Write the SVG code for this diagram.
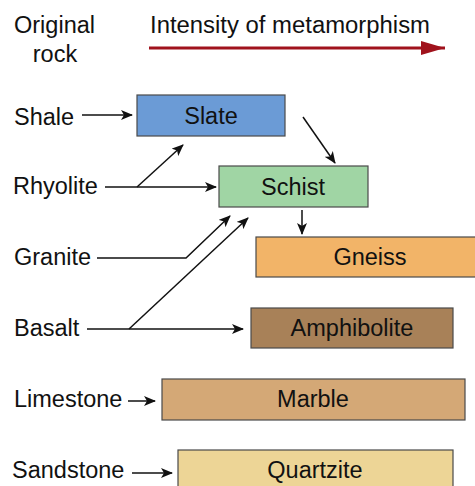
<svg xmlns="http://www.w3.org/2000/svg" width="475" height="486" viewBox="0 0 475 486">
<style>
text{font-family:"Liberation Sans",Arial,sans-serif;font-size:23.5px;fill:#111}
.c{text-anchor:middle}
.box{stroke:#4a4a4a;stroke-width:1.2}
.ln{stroke:#111;stroke-width:1.5;fill:none}
</style>
<defs>
<marker id="ah" markerWidth="12" markerHeight="10" refX="11" refY="5" orient="auto" markerUnits="userSpaceOnUse">
<path d="M0,0 L12,5 L0,10 L3,5 Z" fill="#111"/>
</marker>
<marker id="rh" markerWidth="24" markerHeight="14" refX="24" refY="7" orient="auto" markerUnits="userSpaceOnUse">
<path d="M0,0 L24,7 L0,14 Z" fill="#a0121c"/>
</marker>
</defs>
<rect width="475" height="486" fill="#fff"/>
<g id="header">
<text x="14" y="33" textLength="81" lengthAdjust="spacingAndGlyphs">Original</text>
<text x="55" y="62" class="c">rock</text>
<text x="150" y="33" textLength="280" lengthAdjust="spacingAndGlyphs">Intensity of metamorphism</text>
<line x1="149" y1="48" x2="445" y2="48" stroke="#a0121c" stroke-width="3" marker-end="url(#rh)"/>
</g>
<g id="connectors">
<line class="ln" x1="82" y1="115" x2="132" y2="115" marker-end="url(#ah)"/>
<line class="ln" x1="303" y1="117" x2="335" y2="163" marker-end="url(#ah)"/>
<line class="ln" x1="105" y1="187" x2="216" y2="187" marker-end="url(#ah)"/>
<line class="ln" x1="137" y1="187" x2="183" y2="145" marker-end="url(#ah)"/>
<line class="ln" x1="302" y1="210" x2="302" y2="234" marker-end="url(#ah)"/>
<polyline class="ln" points="97,258 186,258 230,216" marker-end="url(#ah)"/>
<line class="ln" x1="87" y1="329" x2="243" y2="329" marker-end="url(#ah)"/>
<line class="ln" x1="129" y1="329" x2="248" y2="218" marker-end="url(#ah)"/>
<line class="ln" x1="128" y1="401" x2="155" y2="401" marker-end="url(#ah)"/>
<line class="ln" x1="132" y1="473" x2="172" y2="473" marker-end="url(#ah)"/>
</g>
<g id="rocks">
<text x="14" y="125">Shale</text>
<text x="13" y="194">Rhyolite</text>
<text x="14" y="265">Granite</text>
<text x="14" y="336">Basalt</text>
<text x="14" y="407">Limestone</text>
<text x="12" y="478">Sandstone</text>
</g>
<g id="slate"><rect class="box" x="137" y="95" width="148" height="41" fill="#6b9bd6"/><text class="c" x="211" y="124">Slate</text></g>
<g id="schist"><rect class="box" x="219" y="166" width="149" height="41" fill="#a0d5a4"/><text class="c" x="293" y="195">Schist</text></g>
<g id="gneiss"><rect class="box" x="256" y="237" width="225" height="40" fill="#f2b468"/><text class="c" x="370" y="265">Gneiss</text></g>
<g id="amphibolite"><rect class="box" x="251" y="308" width="202" height="40" fill="#a88158"/><text class="c" x="352" y="336">Amphibolite</text></g>
<g id="marble"><rect class="box" x="162" y="379" width="303" height="41" fill="#d4a876"/><text class="c" x="313" y="407">Marble</text></g>
<g id="quartzite"><rect class="box" x="178" y="450" width="275" height="45" fill="#edd596"/><text class="c" x="315" y="478">Quartzite</text></g>
</svg>
